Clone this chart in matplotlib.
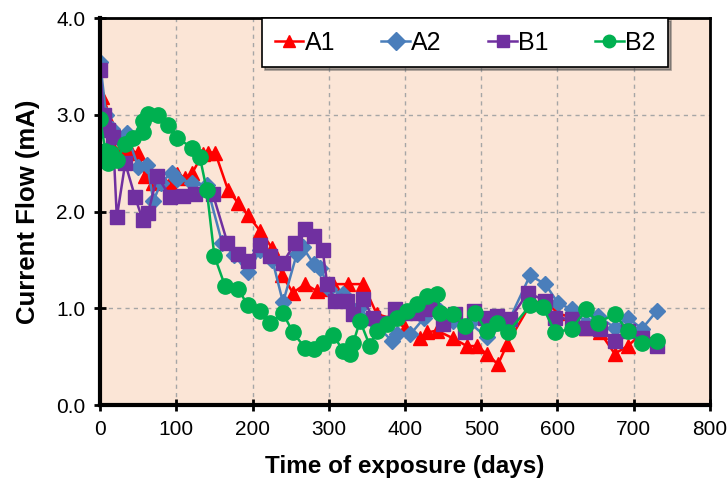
import numpy as np
import matplotlib.pyplot as plt

plt.rcParams["font.family"] = ["Liberation Sans", "DejaVu Sans"]

# DATA ########################################################################
a1_days = [0, 3, 8, 15, 22, 30, 40, 50, 59, 70, 80, 92, 101, 112, 121, 135, 142,
           151, 168, 181, 194, 210, 226, 239, 253, 269, 284, 296, 306, 325, 345,
           363, 380, 400, 420, 429, 442, 463, 481, 494, 507, 522, 534, 565, 584,
           600, 620, 638, 656, 675, 692, 711, 730]
a1_vals = [3.15, 3.18, 3.0, 2.7, 2.6, 2.65, 2.62, 2.61, 2.37, 2.3, 2.35, 2.3, 2.39,
           2.35, 2.40, 2.6, 2.61, 2.61, 2.22, 2.09, 1.96, 1.80, 1.62, 1.34, 1.16,
           1.25, 1.18, 1.2, 1.25, 1.25, 1.25, 0.94, 0.9, 0.8, 0.69, 0.75, 0.77,
           0.69, 0.61, 0.61, 0.53, 0.42, 0.63, 1.05, 1.08, 0.95, 0.9, 0.8, 0.75,
           0.53, 0.61, 0.74, 0.65]

a2_days = [0, 8, 16, 25, 35, 50, 62, 70, 80, 94, 101, 121, 140, 160, 176, 194,
           210, 226, 240, 258, 266, 280, 289, 300, 319, 340, 360, 383, 389, 407,
           425, 446, 463, 485, 507, 535, 564, 584, 601, 619, 638, 653, 675, 692,
           711, 730]
a2_vals = [3.55, 3.0, 2.85, 2.75, 2.81, 2.46, 2.48, 2.11, 2.3, 2.40, 2.34, 2.30,
           2.27, 1.68, 1.55, 1.37, 1.6, 1.5, 1.06, 1.56, 1.63, 1.46, 1.42, 1.2,
           1.15, 1.0, 0.85, 0.66, 0.73, 0.73, 0.9, 0.97, 0.87, 0.85, 0.70, 0.85,
           1.34, 1.25, 1.05, 0.99, 0.85, 0.92, 0.80, 0.90, 0.79, 0.97]

b1_days = [0, 5, 11, 17, 22, 33, 46, 56, 63, 75, 92, 109, 125, 148, 167, 181,
           194, 210, 223, 240, 256, 269, 280, 292, 298, 308, 324, 332, 345, 358,
           372, 387, 400, 416, 435, 450, 466, 479, 490, 505, 520, 538, 561, 584,
           597, 619, 638, 656, 675, 692, 711, 730]
b1_vals = [3.46, 3.0, 2.84, 2.77, 1.94, 2.50, 2.15, 1.91, 1.98, 2.37, 2.15, 2.16,
           2.18, 2.18, 1.68, 1.56, 1.49, 1.65, 1.54, 1.47, 1.68, 1.82, 1.75, 1.60,
           1.25, 1.08, 1.08, 0.94, 1.1, 0.90, 0.85, 0.99, 0.95, 0.95, 0.99, 0.84,
           0.94, 0.75, 0.97, 0.9, 0.92, 0.89, 1.16, 1.08, 0.90, 0.89, 0.80, 0.79,
           0.66, 0.77, 0.69, 0.61]

b2_days = [0, 7, 10, 15, 22, 33, 43, 56, 56, 63, 76, 89, 101, 121, 131, 140, 150,
           164, 181, 194, 210, 223, 240, 253, 269, 280, 292, 306, 319, 328, 332,
           341, 354, 363, 376, 389, 403, 416, 429, 442, 446, 463, 479, 492, 507,
           520, 535, 564, 581, 597, 619, 638, 653, 675, 692, 711, 730]
b2_vals = [2.96, 2.63, 2.5, 2.61, 2.53, 2.70, 2.76, 2.82, 2.94, 3.01, 3.0, 2.89,
           2.76, 2.66, 2.56, 2.22, 1.54, 1.23, 1.20, 1.03, 0.97, 0.85, 0.95, 0.75,
           0.59, 0.58, 0.64, 0.72, 0.56, 0.53, 0.64, 0.87, 0.61, 0.77, 0.84, 0.90,
           0.97, 1.04, 1.13, 1.15, 0.95, 0.94, 0.82, 0.95, 0.77, 0.85, 0.75, 1.03,
           1.01, 0.75, 0.79, 0.99, 0.85, 0.94, 0.77, 0.64, 0.66]

x_ticks = [0, 100, 200, 300, 400, 500, 600, 700, 800]
y_ticks = [0.0, 1.0, 2.0, 3.0, 4.0]

# PLOT ########################################################################
fig = plt.figure(figsize=(7.27, 4.88), dpi=100)
ax = fig.add_axes([0.1376, 0.170, 0.839, 0.793])
ax.set_facecolor("#FBE5D6")

series = [
    (a1_days, a1_vals, "A1", "#FF0000", "^", 10.5),
    (a2_days, a2_vals, "A2", "#4A7EBB", "D", 8),
    (b1_days, b1_vals, "B1", "#7030A0", "s", 10.5),
    (b2_days, b2_vals, "B2", "#00B050", "o", 11),
]
for days, vals, name, col, mk, ms in series:
    ax.plot(days, vals, color=col, marker=mk, markersize=ms,
            markeredgecolor=col, linewidth=1.8, label=name)

ax.set_xlim(0, 800)
ax.set_ylim(0, 4)
ax.set_xticks(x_ticks)
ax.set_yticks(y_ticks)
ax.set_yticklabels([f"{v:.1f}" for v in y_ticks])
ax.tick_params(direction="inout", length=9, width=2, labelsize=15, pad=6)
ax.grid(True, color="#A6A6A6", linestyle=(0, (3, 3)), linewidth=1)
ax.set_axisbelow(True)
for side in ["left", "bottom"]:
    ax.spines[side].set_linewidth(3)
for side in ["right", "top"]:
    ax.spines[side].set_linewidth(2)

ax.set_xlabel("Time of exposure (days)", fontsize=17.5, fontweight="bold", labelpad=12)
ax.set_ylabel("Current Flow (mA)", fontsize=18.5, fontweight="bold", labelpad=12)

leg = ax.legend(loc="upper right", bbox_to_anchor=(0.931, 1.0), ncol=4,
                fontsize=18, frameon=True, fancybox=False, shadow=True,
                handlelength=1.15, handletextpad=0.05, columnspacing=1.85,
                borderpad=0.5, borderaxespad=0.0)
leg.get_frame().set_edgecolor("black")
leg.get_frame().set_linewidth(1.2)
for h in leg.legend_handles:
    h.set_markersize(9)

fig.savefig("out.png", dpi=100)
